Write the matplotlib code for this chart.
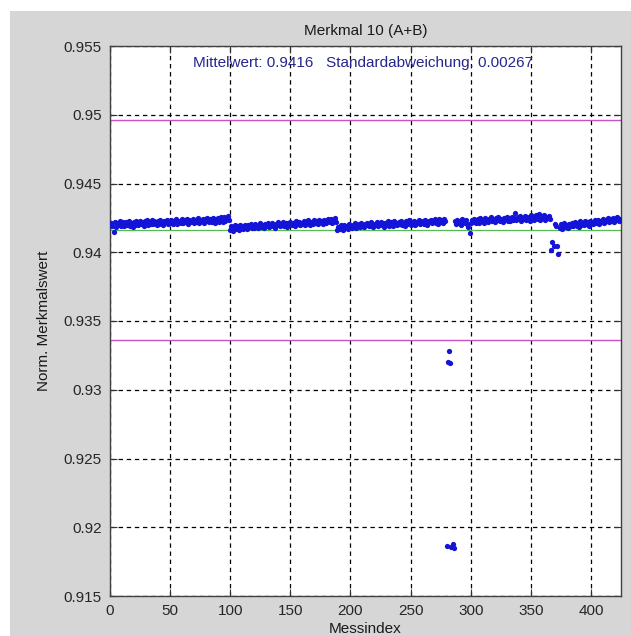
import matplotlib
matplotlib.use("Agg")
import matplotlib.pyplot as plt
import numpy as np
from matplotlib.patches import Rectangle

# Merkmal 10 (A+B): normierte Merkmalswerte je Messindex (1..424)
werte = [
    # 1-99
    0.94215, 0.94188, 0.94150, 0.94222, 0.94185, 0.94210, 0.94195, 0.94226, 0.94190, 0.94201,
    0.94222, 0.94190, 0.94218, 0.94198, 0.94208, 0.94228, 0.94193, 0.94215, 0.94187, 0.94220,
    0.94200, 0.94226, 0.94196, 0.94213, 0.94230, 0.94203, 0.94219, 0.94192, 0.94225, 0.94208,
    0.94231, 0.94199, 0.94220, 0.94207, 0.94234, 0.94202, 0.94225, 0.94211, 0.94196, 0.94229,
    0.94206, 0.94235, 0.94213, 0.94200, 0.94228, 0.94217, 0.94238, 0.94204, 0.94224, 0.94210,
    0.94236, 0.94208, 0.94228, 0.94215, 0.94241, 0.94205, 0.94230, 0.94219, 0.94211, 0.94240,
    0.94214, 0.94233, 0.94222, 0.94244, 0.94209, 0.94236, 0.94218, 0.94228, 0.94245, 0.94212,
    0.94238, 0.94221, 0.94247, 0.94215, 0.94235, 0.94226, 0.94244, 0.94213, 0.94239, 0.94229,
    0.94250, 0.94218, 0.94241, 0.94230, 0.94222, 0.94252, 0.94216, 0.94244, 0.94233, 0.94248,
    0.94222, 0.94255, 0.94236, 0.94219, 0.94258, 0.94228, 0.94247, 0.94262, 0.94232,
    # 100-188
    0.94165, 0.94192, 0.94158, 0.94183, 0.94200, 0.94172, 0.94188, 0.94163, 0.94195, 0.94178,
    0.94190, 0.94170, 0.94201, 0.94182, 0.94168, 0.94197, 0.94186, 0.94205, 0.94174, 0.94192,
    0.94180, 0.94206, 0.94188, 0.94173, 0.94199, 0.94210, 0.94184, 0.94195, 0.94177, 0.94204,
    0.94192, 0.94212, 0.94181, 0.94201, 0.94189, 0.94215, 0.94194, 0.94179, 0.94208, 0.94198,
    0.94217, 0.94188, 0.94205, 0.94195, 0.94222, 0.94191, 0.94210, 0.94186, 0.94214, 0.94200,
    0.94223, 0.94196, 0.94212, 0.94203, 0.94190, 0.94226, 0.94207, 0.94218, 0.94198, 0.94215,
    0.94205, 0.94228, 0.94200, 0.94219, 0.94211, 0.94232, 0.94196, 0.94222, 0.94213, 0.94206,
    0.94234, 0.94210, 0.94225, 0.94203, 0.94238, 0.94217, 0.94229, 0.94209, 0.94236, 0.94221,
    0.94213, 0.94240, 0.94226, 0.94218, 0.94243, 0.94211, 0.94235, 0.94246, 0.94222,
    # 189-279
    0.94160, 0.94185, 0.94170, 0.94195, 0.94178, 0.94165, 0.94200, 0.94182, 0.94190, 0.94172,
    0.94205, 0.94184, 0.94176, 0.94198, 0.94189, 0.94210, 0.94180, 0.94194, 0.94203, 0.94186,
    0.94212, 0.94191, 0.94181, 0.94207, 0.94197, 0.94215, 0.94188, 0.94201, 0.94220, 0.94193,
    0.94184, 0.94209, 0.94198, 0.94217, 0.94190, 0.94205, 0.94222, 0.94196, 0.94212, 0.94187,
    0.94214, 0.94201, 0.94224, 0.94193, 0.94208, 0.94218, 0.94189, 0.94227, 0.94203, 0.94211,
    0.94195, 0.94221, 0.94206, 0.94229, 0.94199, 0.94214, 0.94190, 0.94225, 0.94209, 0.94217,
    0.94232, 0.94200, 0.94218, 0.94207, 0.94226, 0.94195, 0.94222, 0.94212, 0.94234, 0.94204,
    0.94219, 0.94229, 0.94208, 0.94236, 0.94214, 0.94201, 0.94227, 0.94218, 0.94238, 0.94210,
    0.94224, 0.94241, 0.94215, 0.94230, 0.94206, 0.94243, 0.94221, 0.94234, 0.94212, 0.94245,
    0.94226,
    # 280-286 Ausreisser
    0.91865, 0.93205, 0.93285, 0.93192, 0.91858, 0.91878, 0.91850,
    # 287-366
    0.94225, 0.94208, 0.94238, 0.94215, 0.94230, 0.94201, 0.94242, 0.94219, 0.94210, 0.94233,
    0.94205, 0.94185, 0.94140, 0.94212, 0.94236, 0.94220, 0.94245, 0.94211, 0.94228, 0.94240,
    0.94216, 0.94248, 0.94226, 0.94235, 0.94213, 0.94250, 0.94229, 0.94220, 0.94244, 0.94232,
    0.94255, 0.94224, 0.94238, 0.94217, 0.94249, 0.94231, 0.94258, 0.94226, 0.94243, 0.94236,
    0.94221, 0.94252, 0.94240, 0.94260, 0.94230, 0.94246, 0.94225, 0.94257, 0.94238, 0.94249,
    0.94282, 0.94233, 0.94254, 0.94243, 0.94262, 0.94228, 0.94250, 0.94239, 0.94265, 0.94235,
    0.94256, 0.94247, 0.94230, 0.94268, 0.94241, 0.94259, 0.94236, 0.94272, 0.94250, 0.94244,
    0.94278, 0.94238, 0.94262, 0.94252, 0.94270, 0.94233, 0.94258, 0.94246, 0.94265, 0.94240,
    # 367-373
    0.94016, 0.94077, 0.94047, 0.94205, 0.94190, 0.94045, 0.93987,
    # 374-424
    0.94180, 0.94205, 0.94172, 0.94196, 0.94211, 0.94185, 0.94200, 0.94176, 0.94208, 0.94192,
    0.94215, 0.94188, 0.94203, 0.94220, 0.94194, 0.94210, 0.94183, 0.94224, 0.94200, 0.94213,
    0.94196, 0.94227, 0.94207, 0.94218, 0.94190, 0.94230, 0.94211, 0.94222, 0.94203, 0.94233,
    0.94215, 0.94226, 0.94238, 0.94209, 0.94230, 0.94219, 0.94242, 0.94212, 0.94235, 0.94224,
    0.94248, 0.94218, 0.94239, 0.94228, 0.94252, 0.94220, 0.94243, 0.94232, 0.94255, 0.94226,
    0.94240,
]
messindex = np.arange(1, len(werte) + 1)

mittelwert = 0.9416
std_abw = 0.00267

xticks = [0, 50, 100, 150, 200, 250, 300, 350, 400]
yticks = [0.915, 0.92, 0.925, 0.93, 0.935, 0.94, 0.945, 0.95, 0.955]
yticklabels = ["0.915", "0.92", "0.925", "0.93", "0.935", "0.94", "0.945", "0.95", "0.955"]

W, H = 631, 636
plt.rcParams["font.family"] = ["Liberation Sans", "DejaVu Sans"]

fig = plt.figure(figsize=(W / 100, H / 100), dpi=100, facecolor="white")
# grey MATLAB-style figure area, white strip at top and left
fig.patches.append(Rectangle((10 / W, 0), 1, 1 - 11 / H, transform=fig.transFigure,
                             facecolor="#d6d6d6", edgecolor="none", zorder=-10))

ax = fig.add_axes([110 / W, (H - 596) / H, 511 / W, 550 / H])
ax.set_facecolor("white")
ax.set_xlim(0, 425)
ax.set_ylim(0.915, 0.955)

ax.grid(True, color="black", linestyle=(0, (3.5, 3)), linewidth=0.9, zorder=1)
ax.set_axisbelow(True)

ax.axhline(mittelwert + 3 * std_abw, color="#c94fc9", linewidth=1.0, zorder=2)
ax.axhline(mittelwert - 3 * std_abw, color="#c94fc9", linewidth=1.0, zorder=2)
ax.axhline(mittelwert, color="#55bb55", linewidth=0.9, zorder=2)
ax.plot(messindex, werte, linestyle="none", marker="o", markersize=3.8,
        markeredgewidth=0, color="#1414d8", zorder=3)

ax.set_xticks(xticks)
ax.set_yticks(yticks)
ax.set_yticklabels(yticklabels)
ax.tick_params(direction="in", length=5, width=0.8, top=True, right=True,
               labelsize=11, labelcolor="#262626", colors="#333333", pad=6)
for s in ax.spines.values():
    s.set_color("#404040")
    s.set_linewidth(1.0)

ax.set_title("Merkmal 10 (A+B)", fontsize=11, color="#1a1a1a", pad=8)
ax.text(0.495, 0.97,
        "Mittelwert: 0.9416   Standardabweichung: 0.00267",
        transform=ax.transAxes, ha="center", va="center", fontsize=11, color="#26268c")
ax.set_ylabel("Norm. Merkmalswert", fontsize=11, color="#1a1a1a", labelpad=9)
fig.text(365 / W, 1 - 629 / H, "Messindex", ha="center", va="center",
         fontsize=11, color="#1a1a1a")

fig.savefig("out.png", dpi=100, facecolor=fig.get_facecolor())
